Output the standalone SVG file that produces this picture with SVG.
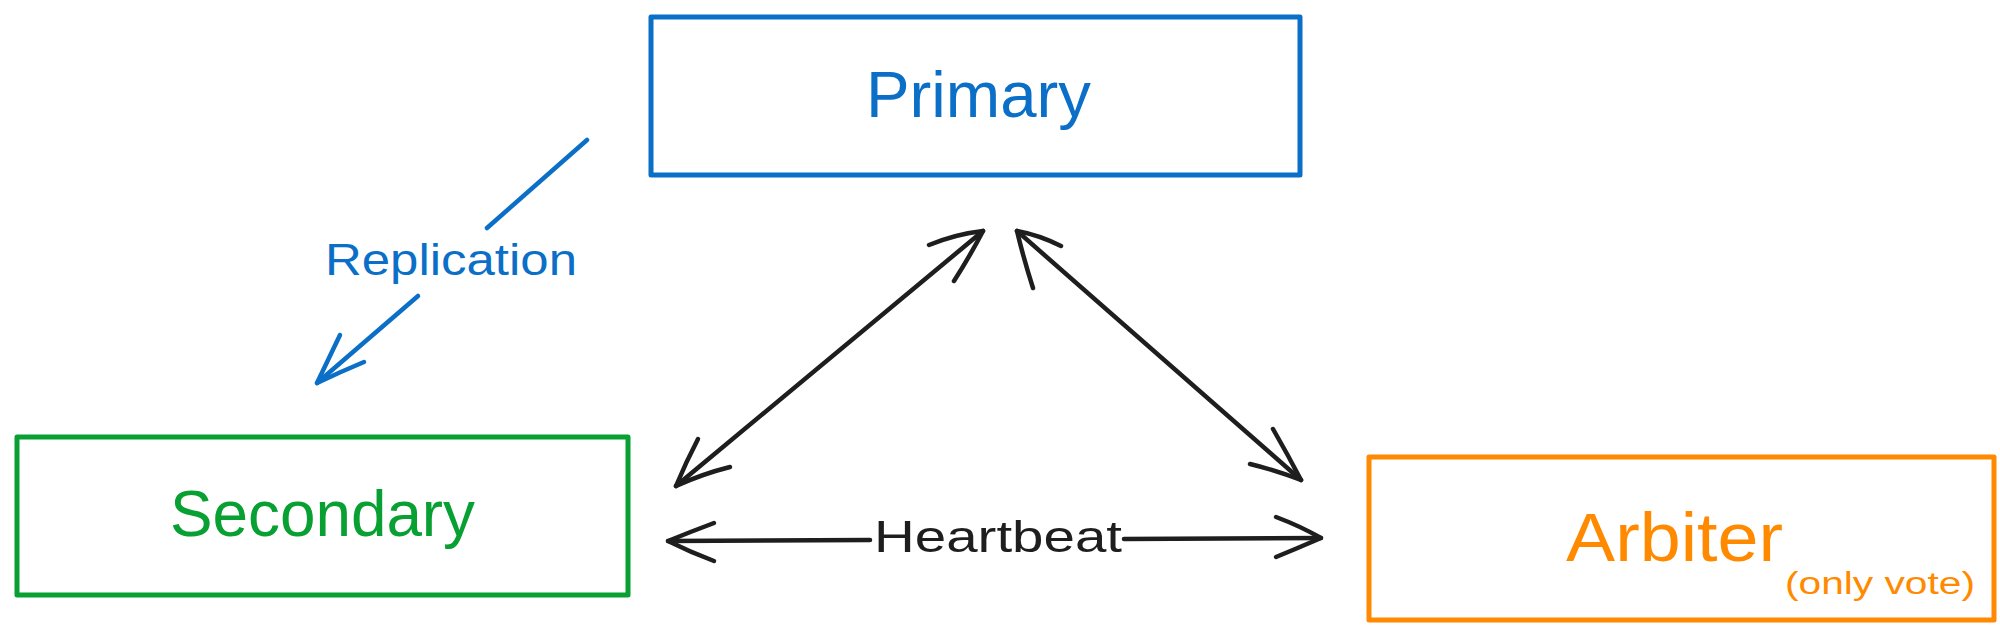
<svg xmlns="http://www.w3.org/2000/svg" width="2000" height="636" viewBox="0 0 2000 636">
<style>
.box{fill:#ffffff;stroke-width:5;stroke-linejoin:round}
.lbl{font-family:"Liberation Sans",Arial,sans-serif}
.ln{fill:none;stroke-width:4.5;stroke-linecap:round;stroke-linejoin:round}
</style>
<rect width="2000" height="636" fill="#ffffff"/>
<g id="primary">
<rect class="box" x="651" y="17" width="649" height="158" stroke="#0b6fc7"/>
<text class="lbl" x="866" y="117" font-size="64" fill="#0b6fc7" textLength="225" lengthAdjust="spacingAndGlyphs">Primary</text>
</g>
<g id="secondary">
<rect class="box" x="17" y="437" width="611" height="158" stroke="#08a032"/>
<text class="lbl" x="170" y="536" font-size="64" fill="#08a032" textLength="305" lengthAdjust="spacingAndGlyphs">Secondary</text>
</g>
<g id="arbiter">
<rect class="box" x="1369" y="457" width="625" height="163" stroke="#ff8a00"/>
<text class="lbl" x="1566" y="561" font-size="68" fill="#ff8a00" textLength="217" lengthAdjust="spacingAndGlyphs">Arbiter</text>
<text class="lbl" x="1785" y="594" font-size="31" fill="#ff8a00" textLength="190" lengthAdjust="spacingAndGlyphs">(only vote)</text>
</g>
<g id="connectors">
<g id="replication">
<path class="ln" stroke="#0b6fc7" d="M587 140 L487 228"/>
<path class="ln" stroke="#0b6fc7" d="M418 296 L317 383"/>
<path class="ln" stroke="#0b6fc7" d="M340 335 Q328 360 317 383 Q340 372 364 362"/>
<text class="lbl" x="325" y="275" font-size="45" fill="#0b6fc7" textLength="252" lengthAdjust="spacingAndGlyphs">Replication</text>
</g>
<g id="primary-secondary">
<path class="ln" stroke="#1e1e1e" d="M983 231 L676 486"/>
<path class="ln" stroke="#1e1e1e" d="M929 245 Q956 234 983 231 Q970 256 954 281"/>
<path class="ln" stroke="#1e1e1e" d="M698 439 Q686 462 676 486 Q702 474 730 467"/>
</g>
<g id="primary-arbiter">
<path class="ln" stroke="#1e1e1e" d="M1017 231 L1301 480"/>
<path class="ln" stroke="#1e1e1e" d="M1061 246 Q1039 235 1017 231 Q1024 260 1033 288"/>
<path class="ln" stroke="#1e1e1e" d="M1273 429 Q1288 455 1301 480 Q1275 470 1250 464"/>
</g>
<g id="heartbeat">
<path class="ln" stroke="#1e1e1e" d="M668 541 L870 540"/>
<path class="ln" stroke="#1e1e1e" d="M1124 539 L1321 538"/>
<path class="ln" stroke="#1e1e1e" d="M714 523 Q690 532 668 541 Q690 552 714 561"/>
<path class="ln" stroke="#1e1e1e" d="M1276 517 Q1300 526 1321 538 Q1298 548 1276 557"/>
<text class="lbl" x="874" y="552" font-size="44" fill="#1e1e1e" textLength="248" lengthAdjust="spacingAndGlyphs">Heartbeat</text>
</g>
</g>
</svg>
